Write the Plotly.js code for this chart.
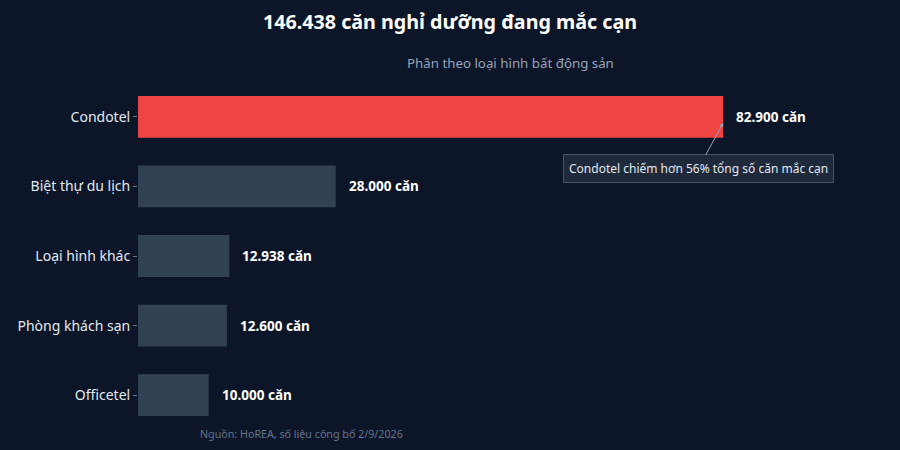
<!DOCTYPE html>
<html>
<head>
<meta charset="utf-8">
<script src="https://cdn.plot.ly/plotly-3.0.1.min.js"></script>
<style>html,body{margin:0;padding:0;background:#0f172a;}</style>
</head>
<body>
<div id="chart" style="width:900px;height:450px;"></div>
<script>
const categories = ["Condotel", "Biệt thự du lịch", "Loại hình khác", "Phòng khách sạn", "Officetel"];
const values = [82900, 28000, 12938, 12600, 10000];
const valueLabels = ["82.900 căn", "28.000 căn", "12.938 căn", "12.600 căn", "10.000 căn"];
const barColors = ["#ef4444", "#334155", "#334155", "#334155", "#334155"];

const font = "'Noto Sans', 'Open Sans', sans-serif";

const annotations = categories.map((c, i) => ({
  x: values[i], y: c, xref: 'x', yref: 'y',
  text: '<b>' + valueLabels[i] + '</b>',
  showarrow: false, xanchor: 'left', yanchor: 'middle', xshift: 11,
  font: {family: font, size: 13.5, color: '#ffffff'}
}));
annotations.push({
  x: values[0], y: categories[0], xref: 'x', yref: 'y', yshift: -6,
  text: 'Condotel chiếm hơn 56% tổng số căn mắc cạn',
  showarrow: true, ax: -25, ay: 46, arrowhead: 2, arrowsize: 0.8, arrowwidth: 1,
  arrowcolor: '#94a3b8', bgcolor: '#1e293b', bordercolor: '#475569', borderwidth: 1, borderpad: 5,
  font: {family: font, size: 12, color: '#e2e8f0'}
});
annotations.push({
  x: 0.5, y: 1, xref: 'paper', yref: 'paper', yanchor: 'bottom', yshift: 8,
  text: 'Phân theo loại hình bất động sản', showarrow: false,
  font: {family: font, size: 13.3, color: '#94a3b8'}
});
annotations.push({
  x: 0.0806, y: 0, xref: 'paper', yref: 'paper', xanchor: 'left', yanchor: 'top', yshift: 5,
  text: 'Nguồn: HoREA, số liệu công bố 2/9/2026', showarrow: false,
  font: {family: font, size: 10.7, color: '#64748b'}
});

Plotly.newPlot('chart', [{
  type: 'bar', orientation: 'h', x: values, y: categories,
  marker: {color: barColors}, width: 0.6, hoverinfo: 'none'
}], {
  width: 900, height: 450,
  paper_bgcolor: '#0d1628', plot_bgcolor: '#0d1628',
  margin: {l: 138, r: 18, t: 82, b: 20, autoexpand: false},
  title: {text: '<b>146.438 căn nghỉ dưỡng đang mắc cạn</b>', x: 0.5, xanchor: 'center', y: 0.95, yanchor: 'middle',
    automargin: false, font: {family: font, size: 19.7, color: '#ffffff'}},
  xaxis: {range: [0, 105400], autorange: false, showgrid: false, zeroline: false, showticklabels: false, showline: false, automargin: false},
  yaxis: {range: [4.5, -0.5], autorange: false, showgrid: false, zeroline: false, showline: false, automargin: false,
    ticks: 'outside', ticklen: 4, tickcolor: '#64748b',
    tickfont: {family: font, size: 14, color: '#e2e8f0'}},
  font: {family: font},
  showlegend: false,
  annotations: annotations
}, {displayModeBar: false, staticPlot: true});
</script>
</body>
</html>
